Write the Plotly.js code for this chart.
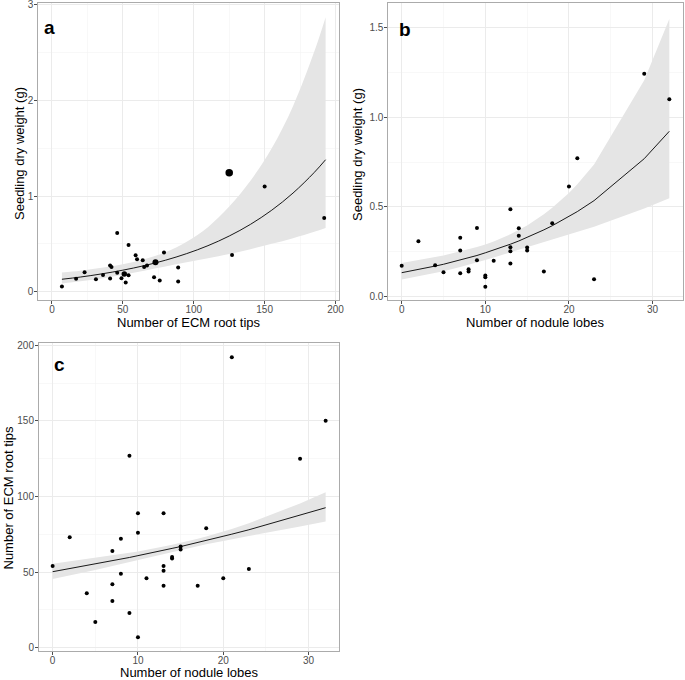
<!DOCTYPE html>
<html>
<head>
<meta charset="utf-8">
<script src="https://cdn.plot.ly/plotly-3.0.1.min.js"></script>
<style>
html,body{margin:0;padding:0;background:#fff;}
#chart{width:685px;height:680px;}
</style>
</head>
<body>
<div id="chart"></div>
<script>
// ---- Data: one entry per seedling ----
const noduleLobes = [0,2,4,5,7,7,7,8,8,9,9,10,10,10,11,13,13,13,13,14,14,15,15,17,18,20,21,23,29,32];
const ecmRootTips = [54,73,36,17,64,42,31,72,49,127,23,89,76,7,46,89,54,51,41,60,59,67,65,41,79,46,192,52,125,150];
const dryWeight = [0.172,0.309,0.174,0.135,0.328,0.257,0.130,0.152,0.140,0.383,0.202,0.107,0.117,0.054,0.199,0.253,0.487,0.184,0.275,0.339,0.381,0.274,0.257,0.139,0.409,0.614,0.771,0.097,1.243,1.100];

// ---- Fitted curves and confidence bands ----
// panel a: weight ~ ECM root tips
const fitA_x = [7,20,35,50,65,80,95,110,125,140,155,170,185,193];
const fitA_y = [0.130,0.153,0.186,0.225,0.272,0.329,0.398,0.481,0.582,0.704,0.852,1.031,1.247,1.380];
const fitA_hi = [0.200,0.220,0.250,0.287,0.338,0.412,0.522,0.675,0.890,1.160,1.500,1.940,2.510,2.870];
const fitA_lo = [0.086,0.108,0.139,0.177,0.220,0.264,0.307,0.350,0.395,0.445,0.500,0.560,0.626,0.667];
// panel b: weight ~ nodule lobes
const fitB_x = [0,2,4,5,7,8,9,10,11,13,14,15,17,18,20,21,23,29,32];
const fitB_y = [0.133,0.150,0.170,0.180,0.203,0.216,0.229,0.244,0.259,0.292,0.310,0.330,0.372,0.395,0.446,0.474,0.535,0.769,0.922];
const fitB_hi = [0.187,0.202,0.220,0.229,0.251,0.263,0.276,0.291,0.307,0.347,0.371,0.397,0.459,0.495,0.578,0.626,0.736,1.206,1.549];
const fitB_lo = [0.095,0.112,0.131,0.141,0.165,0.177,0.191,0.204,0.218,0.246,0.260,0.274,0.302,0.316,0.344,0.359,0.389,0.491,0.549];
// panel c: ECM root tips ~ nodule lobes
const fitC_x = [0,2,4,5,7,8,9,10,11,13,14,15,17,18,20,21,23,29,32];
const fitC_y = [50.3,52.3,54.3,55.3,57.5,58.6,59.7,60.9,62.0,64.4,65.7,66.9,69.5,70.9,73.7,75.1,78.0,87.4,92.6];
const fitC_hi = [55.6,57.1,58.6,59.4,61.1,61.9,62.8,63.7,64.6,66.9,68.1,69.3,72.0,73.5,76.8,78.5,82.3,95.4,102.8];
const fitC_lo = [45.5,47.8,50.3,51.5,54.1,55.4,56.8,58.1,59.5,62.0,63.3,64.6,67.1,68.4,70.6,71.8,73.9,80.1,83.4];

// axis ticks and texts
const ticksA_x = [0,50,100,150,200];
const ticksA_y = [0,1,2,3];
const ticksB_x = [0,10,20,30];
const ticksB_y = [0,0.5,1.0,1.5];
const ticksC_y = [0,50,100,150,200];
const panelLetters = ['a','b','c'];
const titleEcm = 'Number of ECM root tips';
const titleNodules = 'Number of nodule lobes';
const titleWeight = 'Seedling dry weight (g)';

// ---- styling ----
const FONT = '"Liberation Sans", Arial, Helvetica, sans-serif';
const bandColor = '#E5E5E5';
// enlarged points in panel a (index -> marker diameter)
const enlargedA = {28: 7.5, 1: 6, 17: 5.5};
const sizesA = ecmRootTips.map((_, i) => enlargedA[i] || 4);

function band(xs, lo, hi, xa, ya, shape) {
  return [
    {x: xs, y: lo, xaxis: xa, yaxis: ya, type: 'scatter', mode: 'lines',
     line: {width: 0, color: bandColor, shape: shape}, hoverinfo: 'skip', showlegend: false},
    {x: xs, y: hi, xaxis: xa, yaxis: ya, type: 'scatter', mode: 'lines', fill: 'tonexty',
     fillcolor: bandColor, line: {width: 0, color: bandColor, shape: shape}, hoverinfo: 'skip', showlegend: false}
  ];
}
function fitLine(xs, ys, xa, ya, shape) {
  return {x: xs, y: ys, xaxis: xa, yaxis: ya, type: 'scatter', mode: 'lines',
          line: {color: '#000000', width: 0.9, shape: shape}, showlegend: false};
}
function pts(xs, ys, xa, ya, size) {
  return {x: xs, y: ys, xaxis: xa, yaxis: ya, type: 'scatter', mode: 'markers',
          marker: {color: '#000000', size: size, opacity: 1, line: {width: 0}}, opacity: 1, showlegend: false};
}

const traces = [
  ...band(fitA_x, fitA_lo, fitA_hi, 'x', 'y', 'spline'),
  fitLine(fitA_x, fitA_y, 'x', 'y', 'spline'),
  pts(ecmRootTips, dryWeight, 'x', 'y', sizesA),
  ...band(fitB_x, fitB_lo, fitB_hi, 'x2', 'y2', 'linear'),
  fitLine(fitB_x, fitB_y, 'x2', 'y2', 'linear'),
  pts(noduleLobes, dryWeight, 'x2', 'y2', 4),
  ...band(fitC_x, fitC_lo, fitC_hi, 'x3', 'y3', 'linear'),
  fitLine(fitC_x, fitC_y, 'x3', 'y3', 'linear'),
  pts(noduleLobes, ecmRootTips, 'x3', 'y3', 4)
];

function axis(opts) {
  return Object.assign({
    showline: true, mirror: true, linecolor: '#ABABAB', linewidth: 1,
    showgrid: true, gridcolor: '#EBEBEB', gridwidth: 1,
    zeroline: false, ticks: 'outside', ticklen: 3, tickcolor: '#4D4D4D', tickwidth: 1,
    tickfont: {family: FONT, size: 10, color: '#4D4D4D'},
    ticklabeloverflow: 'allow',
    automargin: false, fixedrange: true
  }, opts);
}
const W = 685, H = 680;
const px = (a, b) => [a / W, b / W];
const py = (top, bottom) => [1 - bottom / H, 1 - top / H];
const titleFont = {family: FONT, size: 13, color: '#000000'};
const minorGrid = (d) => ({dtick: d, tick0: 0, showgrid: true, gridcolor: '#F4F4F4', gridwidth: 0.6, ticks: ''});
const XLAB = -3, YLAB = -1;

function label(text, x, y, angle, font) {
  return {text: text, xref: 'paper', yref: 'paper', x: x / W, y: 1 - y / H,
          xanchor: 'center', yanchor: 'middle', textangle: angle, showarrow: false, font: font};
}
const letterFont = {family: FONT, size: 19, color: '#000'};

const layout = {
  width: W, height: H,
  margin: {l: 0, r: 0, t: 0, b: 0},
  paper_bgcolor: '#FFFFFF', plot_bgcolor: '#FFFFFF',
  showlegend: false,
  xaxis: axis({domain: px(38.3, 339.3), anchor: 'y', range: [-9.65, 202.65],
    tickvals: ticksA_x, minor: minorGrid(25), ticklabelstandoff: XLAB}),
  yaxis: axis({domain: py(3.3, 300.3), anchor: 'x', range: [-0.09, 3.015],
    tickvals: ticksA_y, minor: minorGrid(0.5), ticklabelstandoff: YLAB}),
  xaxis2: axis({domain: px(388.3, 682.7), anchor: 'y2', range: [-1.6, 33.6],
    tickvals: ticksB_x, minor: minorGrid(5), ticklabelstandoff: XLAB}),
  yaxis2: axis({domain: py(3.3, 300.3), anchor: 'x2', range: [-0.021, 1.636],
    tickvals: ticksB_y, tickformat: '.1f', minor: minorGrid(0.25), ticklabelstandoff: YLAB}),
  xaxis3: axis({domain: px(39, 339.3), anchor: 'y3', range: [-1.6, 33.6],
    tickvals: ticksB_x, minor: minorGrid(5), ticklabelstandoff: XLAB}),
  yaxis3: axis({domain: py(343.3, 651.2), anchor: 'x3', range: [-2.25, 201.25],
    tickvals: ticksC_y, minor: minorGrid(25), ticklabelstandoff: YLAB}),
  annotations: [
    label('<b>' + panelLetters[0] + '</b>', 50, 28, 0, letterFont),
    label('<b>' + panelLetters[1] + '</b>', 405, 30, 0, letterFont),
    label('<b>' + panelLetters[2] + '</b>', 59, 364, 0, letterFont),
    label(titleEcm, 188.8, 322.5, 0, titleFont),
    label(titleWeight, 20, 154, -90, titleFont),
    label(titleNodules, 535.5, 322.5, 0, titleFont),
    label(titleWeight, 358, 155, -90, titleFont),
    label(titleNodules, 189.2, 672, 0, titleFont),
    label(titleEcm, 8.5, 498, -90, titleFont)
  ]
};

Plotly.newPlot('chart', traces, layout, {staticPlot: true, displayModeBar: false});
</script>
</body>
</html>
